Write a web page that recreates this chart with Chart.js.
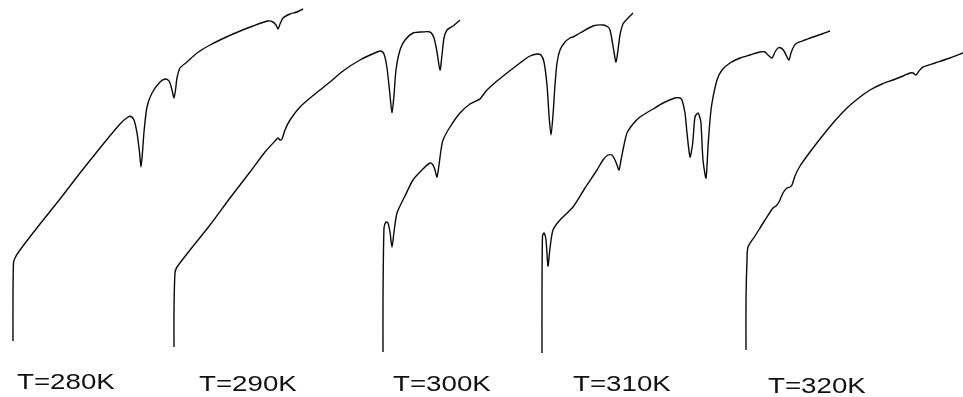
<!DOCTYPE html>
<html>
<head>
<meta charset="utf-8">
<script src="https://cdn.jsdelivr.net/npm/chart.js@4/dist/chart.umd.min.js"></script>
<style>
html,body{margin:0;padding:0;background:#fff;}
#wrap{width:963px;height:397px;position:relative;}
</style>
</head>
<body>
<div id="wrap"><canvas id="c" width="963" height="397"></canvas></div>
<script>
// Temperature labels
const tempLabels = ['T=280K', 'T=290K', 'T=300K', 'T=310K', 'T=320K'];

// Curve traces (x = horizontal position, y = vertical position, top = 0)
const t280x = [13,13,13.5,15,20,40,60,80,100,120,128,131,134,137,139.5,141,142.5,144,147,152,160,165,168,170,172,174,175.5,177,180,187,197,210,233,253,268,273,276,278,280,283,290,297,303];
const t280y = [341,300,263,258,250,224,199,173,148,124,117,116.5,120,133,152,167,152,132,107,93,82,79,80,83,90,98,90,78,68,62,53,45,34,26,21,22,25,29,24,18,14,12,9];

const t290x = [174,174,175,177,190,210,230,250,265,275,278,280,282,285,290,300,315,330,343,360,377,381,384,387,390,392,394,396,400,405,413,422,430,434,437,440,442,444,447,453,460];
const t290y = [347,310,273,267,250,225,198,172,152,141,138,140,139,130,120,107,94,82,71,60,52,51,54,68,95,113,95,70,50,40,33,32,32,38,52,70,55,38,30,26,20];

const t300x = [383,383,384,386,388,390,392,394,397,405,413,422,430,433,435,437,439,441,443,450,460,470,478,480,487,497,507,520,530,537,541,544,547,549,551,553,555,557,560,565,570,573,580,593,603,608,610,612,614,616,618,620,623,628,633];
const t300y = [352,300,228,222,223,232,247,232,213,196,180,170,163,165,170,177,165,150,140,127,113,104,100,99,90,81,73,63,56,54,55,62,85,115,135,115,85,63,50,42,38,37,33,26,25,27,30,40,52,62,50,35,24,18,13];

const t310x = [542,542,542.5,544,546,548,550,553,560,573,585,597,603,608,612,615,617,619,621,624,627,633,640,653,663,675,680,682,685,687,690,692,693,695,698,700,701,703,706,708,710,712,717,722,730,740,750,760,765,768,772,775,778,781,784,787,789,791,794,797,805,813,822,830];
const t310y = [353,300,236,233,240,266,248,230,220,207,188,170,160,155,155,160,165,170,160,145,133,124,117,109,103,98,98,100,113,133,157,148,140,117,113,118,123,160,178,147,120,103,80,70,63,58,55,52,52,55,58,52,48,48,51,57,60,53,46,43,40,37,34,31];

const t320x = [746,746,747,748,755,765,773,776,779,783,787,790,792,795,800,810,820,833,847,860,870,882,893,903,910,913,916,919,923,935,950,963];
const t320y = [350,300,260,247,236,220,208,206,202,193,188,187,185,176,166,152,139,123,108,97,90,84,80,76,73,73,75,71,67,63,58,53];

const traces = [[t280x,t280y],[t290x,t290y],[t300x,t300y],[t310x,t310y],[t320x,t320y]];
const datasets = traces.map((t, i) => ({
  label: tempLabels[i],
  data: t[0].map((x, k) => ({x: x, y: t[1][k]})),
  showLine: true,
  borderColor: '#0a0a0a',
  borderWidth: 1.4,
  pointRadius: 0,
  tension: 0.25,
  fill: false
}));

const labelPlugin = {
  id: 'tempLabels',
  afterDraw(chart, args, opts) {
    const ctx = chart.ctx;
    ctx.save();
    ctx.fillStyle = opts.color;
    ctx.font = opts.font;
    ctx.textBaseline = 'alphabetic';
    ctx.textAlign = 'left';
    tempLabels.forEach((txt, i) => {
      const p = opts.positions[i];
      ctx.save();
      ctx.translate(p[0], p[1]);
      ctx.scale(opts.stretch, 1);
      ctx.fillText(txt, 0, 0);
      ctx.restore();
    });
    ctx.restore();
  }
};

new Chart(document.getElementById('c'), {
  type: 'scatter',
  data: { datasets: datasets },
  options: {
    responsive: false,
    animation: false,
    devicePixelRatio: 1,
    layout: { padding: 0 },
    scales: {
      x: { type: 'linear', min: 0, max: 963, display: false },
      y: { type: 'linear', min: 0, max: 397, reverse: true, display: false }
    },
    plugins: {
      legend: { display: false },
      tooltip: { enabled: false },
      tempLabels: {
        color: '#111111',
        font: '22px "Liberation Sans", Arial, sans-serif',
        stretch: 1.26,
        positions: [[17,389],[199,391],[393,391],[573,391],[768,393]]
      }
    }
  },
  plugins: [labelPlugin]
});
</script>
</body>
</html>
